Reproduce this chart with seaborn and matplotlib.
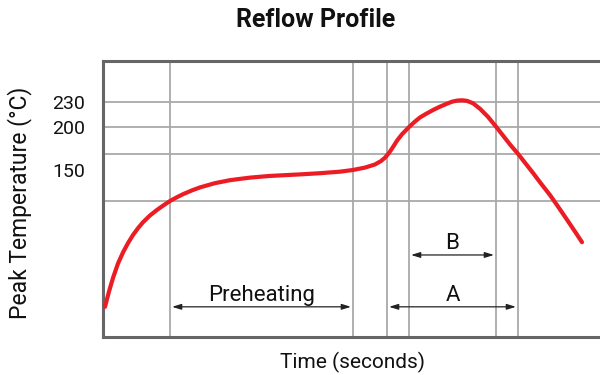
import matplotlib
matplotlib.use("Agg")
import matplotlib.pyplot as plt
import pandas as pd
import seaborn as sns

# Reflow temperature curve: time (s) against peak temperature (°C)
time_s = [2, 6, 10, 15, 20, 25, 30, 35, 40, 47, 54, 60, 67, 74, 80, 89, 97,
          112, 127, 147, 167, 197, 217, 237, 250, 262, 272, 278, 282, 286,
          290, 294, 299, 306, 312, 317, 323, 330, 337, 344, 349, 354, 359,
          364, 370, 377, 385, 393, 400, 407, 415, 422, 430, 438, 447, 455,
          464, 472, 479]
temp_c = [-11, 7, 23, 40, 53, 64, 73.5, 81.5, 88.5, 96.5, 103, 108, 113.5,
          118, 121.5, 126, 129.5, 134.5, 138, 141, 143, 144.8, 146.2, 148,
          150, 152.8, 156.5, 160.5, 164.5, 170, 177, 184.5, 192, 200.5, 207,
          211.8, 216, 220.5, 224.5, 228, 230.3, 231.6, 232, 231.3, 228.5, 222,
          212.5, 201, 190.5, 180, 169, 158.5, 146.5, 134, 120.5, 107, 91.5,
          77.5, 65]

# Labelled temperatures on the y axis
temp_ticks = [230, 200, 150]
temp_tick_labels = ["230", "200", "150"]

# Reference lines
time_marks = [67, 250, 284, 306, 393, 415]
temp_levels = [230, 200, 168.5, 114]

# Process windows shown as double-headed arrows
span_names = ["Preheating", "A", "B"]
span_start = [67, 284, 306]
span_end = [250, 415, 393]
span_level = [-11, -11, 50]

sns.set_theme(style="white")
plt.rcParams["font.family"] = ["Roboto", "DejaVu Sans"]
plt.rcParams["text.color"] = "#111111"

W, H = 600, 375
fig = plt.figure(figsize=(W / 100, H / 100), dpi=100)
left, top, bottom = 103, 61, 337
ax = fig.add_axes([left / W, 1 - bottom / H, 1 - left / W, (bottom - top) / H])

grid_kw = dict(color="#a9a9a9", lw=1.3, zorder=1)
for t in time_marks:
    ax.axvline(t, **grid_kw)
for lvl in temp_levels:
    ax.axhline(lvl, **grid_kw)

df = pd.DataFrame({"Time (s)": time_s, "Temperature (°C)": temp_c})
sns.lineplot(data=df, x="Time (s)", y="Temperature (°C)", sort=False,
             color="#ec1c24", lw=3, ax=ax, zorder=5)

for name, x0, x1, y in zip(span_names, span_start, span_end, span_level):
    ax.annotate("", xy=(x1, y), xytext=(x0, y),
                arrowprops=dict(arrowstyle="<|-|>,head_length=0.45,head_width=0.14",
                                color="#222222", lw=0.9, shrinkA=1.5, shrinkB=1.5),
                zorder=6)
    ax.annotate(name, xy=((x0 + x1) / 2, y), xytext=(0, 4),
                textcoords="offset points", ha="center", va="baseline",
                fontsize=16, color="#111111")

ax.set_xlim(0, 497)
ax.set_ylim(-46.5, 278.2)
ax.set_xticks([])
ax.set_yticks(temp_ticks)
ax.set_yticklabels(temp_tick_labels)
ax.tick_params(axis="y", length=0, pad=13, labelsize=14, labelcolor="#111111")

for side in ["left", "top", "bottom"]:
    ax.spines[side].set_visible(True)
    ax.spines[side].set_color("#666666")
    ax.spines[side].set_linewidth(2.2)
ax.spines["right"].set_visible(False)

ax.set_xlabel("Time (seconds)", fontsize=15, color="#111111")
ax.set_ylabel("Peak Temperature (°C)", fontsize=16.5, color="#111111")
ax.xaxis.set_label_coords((353 - left) / (W - left), -(352 - bottom) / (bottom - top))
ax.xaxis.label.set_va("top")
ax.yaxis.set_label_coords(-(left - 32) / (W - left), 0.5 - (203 - (top + bottom) / 2) / (bottom - top))

fig.suptitle("Reflow Profile", x=316 / W, y=1 - 20 / H, va="center",
             fontsize=18, fontweight="bold", color="#111111")

fig.savefig("out.png", dpi=100)
